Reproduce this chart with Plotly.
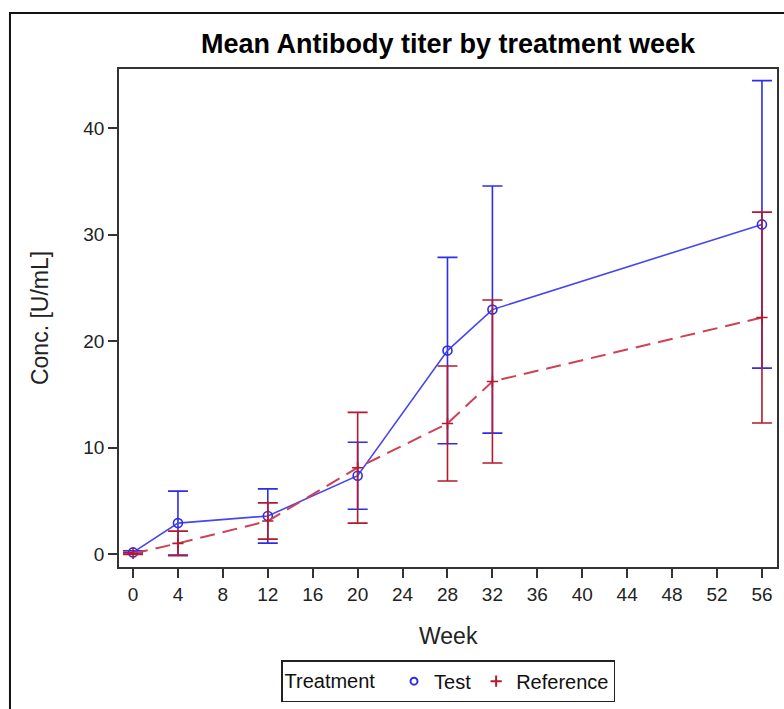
import plotly.graph_objects as go

# Mean titer (U/mL) and standard deviation per treatment week
weeks = [0, 4, 12, 20, 28, 32, 56]

test_mean = [0.15, 2.9, 3.57, 7.35, 19.1, 22.95, 30.95]
test_sd = [0.15, 3.0, 2.55, 3.15, 8.75, 11.6, 13.5]

ref_mean = [0.05, 1.0, 3.1, 8.1, 12.25, 16.2, 22.2]
ref_sd = [0.1, 1.15, 1.7, 5.2, 5.4, 7.65, 9.9]

x_ticks = list(range(0, 57, 4))
y_ticks = [0, 10, 20, 30, 40]

BLUE = "rgb(45,45,235)"
BLUE_LINE = "rgb(70,70,240)"
RED = "rgb(180,25,45)"
RED_LINE = "rgb(205,65,85)"
FONT = "Liberation Sans, Arial, sans-serif"

fig = go.Figure()

fig.add_trace(go.Scatter(
    x=weeks, y=test_mean, mode="lines+markers", name="Test", showlegend=False,
    line=dict(color=BLUE_LINE, width=1.6),
    marker=dict(symbol="circle-open", size=9, color=BLUE, line=dict(width=1.6, color=BLUE)),
    error_y=dict(type="data", array=test_sd, visible=True, color=BLUE, thickness=1.6, width=10),
))

fig.add_trace(go.Scatter(
    x=weeks, y=ref_mean, mode="lines+markers", name="Reference", showlegend=False,
    line=dict(color=RED_LINE, width=2, dash="15px,8px"),
    marker=dict(symbol="cross-thin-open", size=8, color=RED, line=dict(width=1.6, color=RED)),
    error_y=dict(type="data", array=ref_sd, visible=True, color=RED, thickness=1.6, width=10),
))

# Marker-only legend entries
fig.add_trace(go.Scatter(
    x=[None], y=[None], mode="markers", name="Test",
    marker=dict(symbol="circle-open", size=7, color=BLUE, line=dict(width=2, color=BLUE)),
))
fig.add_trace(go.Scatter(
    x=[None], y=[None], mode="markers", name="Reference",
    marker=dict(symbol="cross-thin-open", size=8, color=RED, line=dict(width=2, color=RED)),
))

axis_common = dict(
    showline=True, linecolor="#333", linewidth=1.5, mirror=True,
    ticks="outside", ticklen=9, tickwidth=1.5, tickcolor="#333",
    showgrid=False, zeroline=False,
    tickfont=dict(family=FONT, size=19, color="#222"),
)

fig.update_xaxes(range=[-1.25, 57.34], tickvals=x_ticks, **axis_common)
fig.update_yaxes(range=[-1.22, 45.54], tickvals=y_ticks, **axis_common)

fig.update_layout(
    width=784, height=709,
    margin=dict(l=119, r=7, t=69, b=142, autoexpand=False),
    paper_bgcolor="white", plot_bgcolor="white",
    title=dict(
        text="<b>Mean Antibody titer by treatment week</b>",
        font=dict(family=FONT, size=27, color="#000"),
        x=0.5, xref="paper", xanchor="center",
        y=1 - 44 / 709, yref="container", yanchor="middle",
    ),
    legend=dict(
        orientation="h", x=0.5, xanchor="center", y=-0.187, yanchor="top",
        bordercolor="#222", borderwidth=1.5, bgcolor="white",
        font=dict(family=FONT, size=20, color="#111"),
        title=dict(text="Treatment  ", side="left", font=dict(family=FONT, size=20, color="#111")),
        itemsizing="trace",
    ),
    annotations=[
        dict(text="Week", x=0.5, y=-0.1386, xref="paper", yref="paper",
             xanchor="center", yanchor="middle", showarrow=False,
             font=dict(family=FONT, size=23, color="#222")),
        dict(text="Conc. [U/mL]", x=-0.12, y=0.5, xref="paper", yref="paper",
             xanchor="center", yanchor="middle", showarrow=False, textangle=-90,
             font=dict(family=FONT, size=23, color="#222")),
    ],
    shapes=[
        dict(type="rect", xref="paper", yref="paper",
             x0=-0.1657, x1=1.2, y0=-0.4, y1=1.1124,
             line=dict(color="#111", width=2), layer="below"),
    ],
)

fig.write_html("out.html")
